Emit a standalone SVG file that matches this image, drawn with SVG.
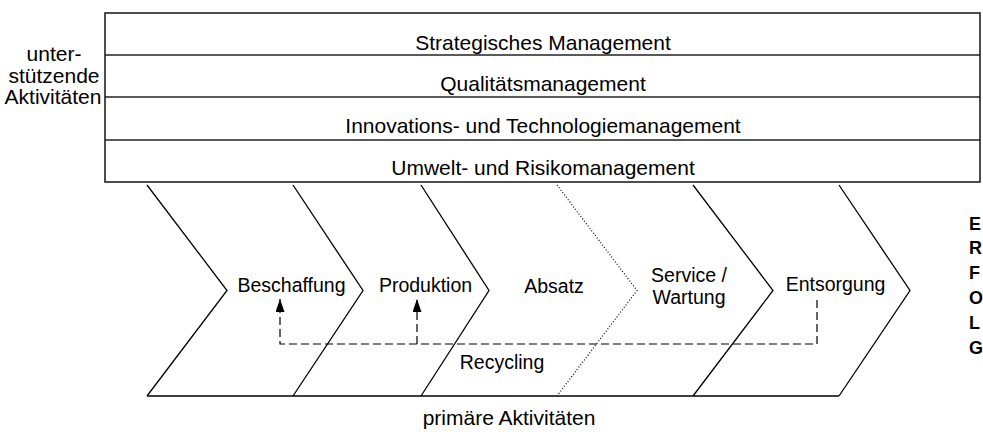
<svg xmlns="http://www.w3.org/2000/svg" width="983" height="432" viewBox="0 0 983 432">
  <defs>
    <marker id="arr" markerUnits="userSpaceOnUse" markerWidth="13" markerHeight="9" refX="13" refY="4.5" orient="auto" viewBox="0 0 13 9">
      <path d="M0,0 L13,4.5 L0,9 z" fill="#000"/>
    </marker>
  </defs>
  <style>
    text { font-family: "Liberation Sans", Arial, sans-serif; fill: #000; }
    .band { font-size: 21px; text-anchor: middle; }
    .lbl { font-size: 19.5px; text-anchor: middle; }
    .side { font-size: 21px; text-anchor: middle; }
    .erfolg { font-size: 18px; font-weight: bold; }
    .frame { fill: #fff; stroke: #222; stroke-width: 1.6; }
    .sep { stroke: #222; stroke-width: 1.5; fill: none; }
    .chev { fill: none; stroke: #000; stroke-width: 1.3; }
    .dot { fill: none; stroke: #000; stroke-width: 1.2; stroke-dasharray: 1 2; }
    .dash { fill: none; stroke: #000; stroke-width: 1.2; stroke-dasharray: 8 4; }
  </style>
  <rect width="983" height="432" fill="#fff"/>

  <g id="support">
    <rect class="frame" x="105" y="13" width="875" height="169"/>
    <line class="sep" x1="105" y1="55" x2="980" y2="55"/>
    <line class="sep" x1="105" y1="97" x2="980" y2="97"/>
    <line class="sep" x1="105" y1="140" x2="980" y2="140"/>
  </g>
  <g id="band-strategie"><text class="band" x="543" y="50">Strategisches Management</text></g>
  <g id="band-qualitaet"><text class="band" x="543" y="91">Qualitätsmanagement</text></g>
  <g id="band-innovation"><text class="band" x="543" y="133">Innovations- und Technologiemanagement</text></g>
  <g id="band-umwelt"><text class="band" x="543" y="175">Umwelt- und Risikomanagement</text></g>

  <g id="label-support">
    <text class="side" x="54" y="61">unter-</text>
    <text class="side" x="54" y="83">stützende</text>
    <text class="side" x="53" y="104">Aktivitäten</text>
  </g>

  <g id="base">
    <line class="chev" x1="147" y1="396" x2="839" y2="396"/>
  </g>
  <g id="beschaffung">
    <polyline class="chev" points="147,185 227,290.5 147,396"/>
    <text class="lbl" x="291.5" y="292">Beschaffung</text>
  </g>
  <g id="produktion">
    <polyline class="chev" points="293,185 363,290.5 293,396"/>
    <text class="lbl" x="425.5" y="292">Produktion</text>
  </g>
  <g id="absatz">
    <polyline class="chev" points="421,185 489,290.5 421,396"/>
    <text class="lbl" x="554" y="293">Absatz</text>
  </g>
  <g id="service">
    <polyline class="dot" points="557,185 637,290.5 557,396"/>
    <text class="lbl" x="689" y="282">Service /</text>
    <text class="lbl" x="689" y="304">Wartung</text>
  </g>
  <g id="entsorgung">
    <polyline class="chev" points="693,185 773,290.5 693,396"/>
    <text class="lbl" x="835.5" y="291">Entsorgung</text>
  </g>
  <g id="ende">
    <polyline class="chev" points="839,185 910,290.5 839,396"/>
  </g>

  <g id="connectors">
    <path class="dash" d="M817,300 V344 H280 V299" marker-end="url(#arr)"/>
    <path class="dash" d="M417,344 V299" marker-end="url(#arr)"/>
    <text class="lbl" x="502" y="369">Recycling</text>
  </g>

  <g id="label-primary">
    <text class="band" x="509" y="425">primäre Aktivitäten</text>
  </g>

  <g id="erfolg">
    <text class="erfolg" x="969" y="230">E</text>
    <text class="erfolg" x="969" y="254">R</text>
    <text class="erfolg" x="969" y="279">F</text>
    <text class="erfolg" x="969" y="304">O</text>
    <text class="erfolg" x="969" y="329">L</text>
    <text class="erfolg" x="969" y="354">G</text>
  </g>
</svg>
